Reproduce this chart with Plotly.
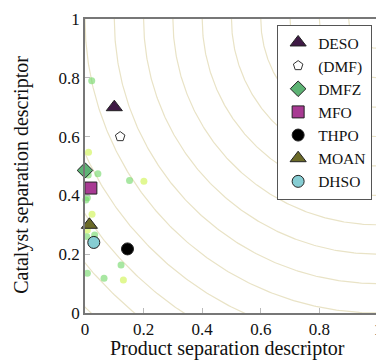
import numpy as np
import plotly.graph_objects as go

# contour radii (distance from ideal point (1,1))
radii = [0.1, 0.2, 0.3, 0.4, 0.5, 0.6, 0.7, 0.8, 0.9, 1.0, 1.1, 1.2, 1.3, 1.4]

# background candidate points
bg_green_x = [0.023, 0.011, 0.044, 0.152, 0.003, 0.008, 0.006, 0.033, 0.123, 0.008, 0.065]
bg_green_y = [0.79, 0.469, 0.474, 0.451, 0.384, 0.392, 0.26, 0.265, 0.163, 0.135, 0.118]
bg_yellow_x = [0.012, 0.201, 0.024, 0.008, 0.131]
bg_yellow_y = [0.547, 0.448, 0.336, 0.282, 0.112]

# named solvents
names = ["DESO", "(DMF)", "DMFZ", "MFO", "THPO", "MOAN", "DHSO"]
px = [0.10, 0.12, 0.0, 0.02, 0.145, 0.015, 0.03]
py = [0.70, 0.60, 0.485, 0.425, 0.218, 0.30, 0.24]
symbols = ["triangle-up", "pentagon-open", "diamond", "square", "circle", "triangle-up", "circle"]
colors = ["#3f1a45", "#222222", "#5db374", "#a83a93", "#000000", "#6b6a28", "#86cdd3"]
sizes = [14, 10, 12, 12, 12, 14, 12]

x_title = "Product separation descriptor"
y_title = "Catalyst separation descriptor"

SERIF = "Liberation Serif, DejaVu Serif, serif"

fig = go.Figure()

t = np.linspace(np.pi, 1.5 * np.pi, 200)
for r in radii:
    fig.add_trace(go.Scatter(x=1 + r * np.cos(t), y=1 + r * np.sin(t), mode="lines",
                             line=dict(color="#e9e3c6", width=1.2), showlegend=False,
                             hoverinfo="skip"))

fig.add_trace(go.Scatter(x=bg_green_x, y=bg_green_y, mode="markers",
                         marker=dict(size=7, color="rgba(110,215,100,0.6)"),
                         showlegend=False, cliponaxis=False))
fig.add_trace(go.Scatter(x=bg_yellow_x, y=bg_yellow_y, mode="markers",
                         marker=dict(size=7, color="rgba(215,245,110,0.75)"),
                         showlegend=False, cliponaxis=False))

for n, x, y, s, c, sz in zip(names, px, py, symbols, colors, sizes):
    if s == "pentagon-open":
        mk = dict(symbol=s, size=sz, color="#333333", line=dict(width=1, color="#333333"))
    else:
        mk = dict(symbol=s, size=sz, color=c, line=dict(width=1, color="#222222"))
    fig.add_trace(go.Scatter(x=[x], y=[y], mode="markers", name=n, marker=mk,
                             cliponaxis=False))

axis_common = dict(range=[0, 1], showgrid=False, zeroline=False, showline=True,
                   linecolor="#777777", linewidth=1.5, mirror=True,
                   ticks="inside", ticklen=5, tickcolor="#bbbbbb",
                   tickvals=[0, 0.2, 0.4, 0.6, 0.8, 1],
                   ticktext=["0", "0.2", "0.4", "0.6", "0.8", "1"],
                   automargin=False, ticklabeloverflow="allow",
                   tickfont=dict(family=SERIF, size=17, color="#111111"))

fig.update_layout(
    width=376, height=353,
    margin=dict(l=77, r=6, t=11, b=48),
    paper_bgcolor="white", plot_bgcolor="white",
    font=dict(family=SERIF, color="#111111"),
    xaxis=axis_common,
    yaxis=axis_common,
    legend=dict(x=0.98, y=0.98, xanchor="right", yanchor="top",
                bgcolor="white", bordercolor="#555555", borderwidth=1,
                font=dict(size=15.5, family=SERIF, color="#111111"),
                itemsizing="trace", tracegroupgap=0),
    showlegend=True,
    annotations=[
        dict(text=x_title, xref="paper", yref="paper", x=0.488, y=-0.122,
             xanchor="center", yanchor="middle", showarrow=False,
             font=dict(size=20, family=SERIF, color="#111111")),
        dict(text=y_title, xref="paper", yref="paper", x=-0.215, y=0.47,
             xanchor="center", yanchor="middle", showarrow=False, textangle=-90,
             font=dict(size=20, family=SERIF, color="#111111")),
    ],
)

fig.write_html("out.html")
